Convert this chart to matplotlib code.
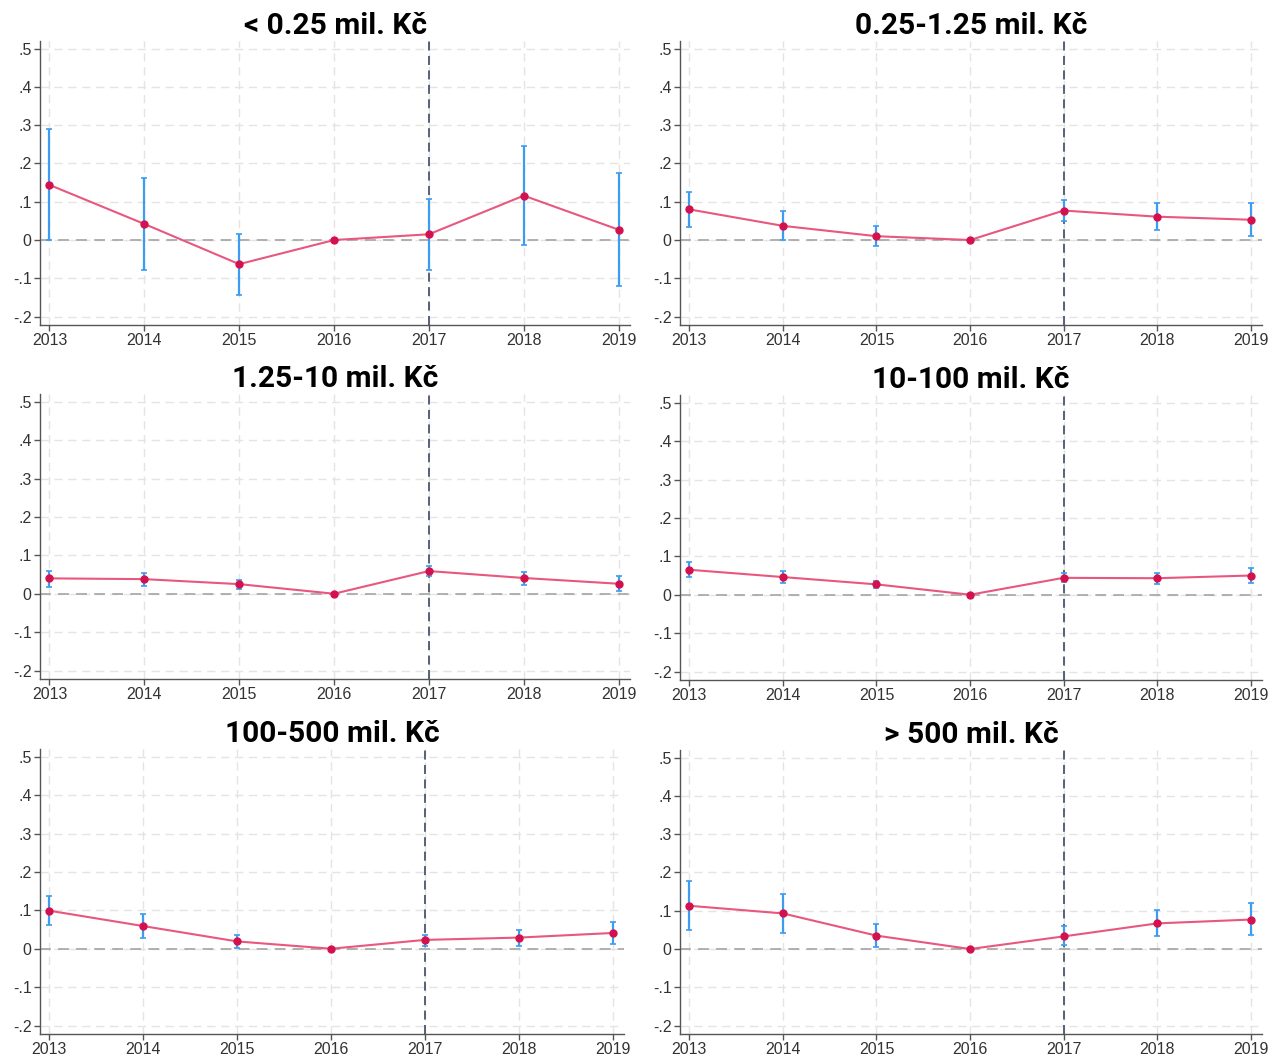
import matplotlib
matplotlib.use("Agg")
import matplotlib.pyplot as plt
from matplotlib.ticker import FuncFormatter

plt.rcParams["font.family"] = ["Liberation Sans", "DejaVu Sans"]

years = [2013, 2014, 2015, 2016, 2017, 2018, 2019]

titles = ["< 0.25 mil. Kč", "0.25-1.25 mil. Kč", "1.25-10 mil. Kč",
          "10-100 mil. Kč", "100-500 mil. Kč", "> 500 mil. Kč"]

# point estimates
est_1 = [0.144, 0.042, -0.063, 0.0, 0.015, 0.116, 0.027]
est_2 = [0.080, 0.037, 0.010, 0.0, 0.077, 0.061, 0.053]
est_3 = [0.040, 0.038, 0.025, 0.0, 0.059, 0.041, 0.026]
est_4 = [0.065, 0.046, 0.027, 0.0, 0.044, 0.043, 0.050]
est_5 = [0.099, 0.059, 0.019, 0.0, 0.023, 0.029, 0.041]
est_6 = [0.113, 0.093, 0.035, 0.0, 0.033, 0.067, 0.077]

# confidence interval bounds
lo_1 = [0.000, -0.077, -0.143, 0.0, -0.077, -0.013, -0.120]
hi_1 = [0.291, 0.163, 0.017, 0.0, 0.107, 0.246, 0.175]
lo_2 = [0.034, 0.000, -0.016, 0.0, 0.051, 0.026, 0.010]
hi_2 = [0.125, 0.077, 0.037, 0.0, 0.105, 0.097, 0.096]
lo_3 = [0.018, 0.021, 0.013, 0.0, 0.047, 0.024, 0.007]
hi_3 = [0.060, 0.055, 0.037, 0.0, 0.071, 0.057, 0.045]
lo_4 = [0.046, 0.030, 0.017, 0.0, 0.032, 0.029, 0.030]
hi_4 = [0.085, 0.062, 0.037, 0.0, 0.057, 0.057, 0.070]
lo_5 = [0.063, 0.029, 0.001, 0.0, 0.008, 0.007, 0.013]
hi_5 = [0.136, 0.090, 0.037, 0.0, 0.036, 0.050, 0.070]
lo_6 = [0.050, 0.042, 0.004, 0.0, 0.010, 0.033, 0.036]
hi_6 = [0.177, 0.145, 0.066, 0.0, 0.059, 0.101, 0.119]

estimates = [est_1, est_2, est_3, est_4, est_5, est_6]
lows = [lo_1, lo_2, lo_3, lo_4, lo_5, lo_6]
highs = [hi_1, hi_2, hi_3, hi_4, hi_5, hi_6]

yticks = [-0.2, -0.1, 0, 0.1, 0.2, 0.3, 0.4, 0.5]

W, H = 1272, 1056
fig = plt.figure(figsize=(W / 100, H / 100), dpi=100)

# axes boxes in pixels: left, right, top, bottom
boxes = [
    (40, 630, 41, 325),
    (680, 1262, 41, 325),
    (40, 630, 394, 679),
    (680, 1262, 395, 680),
    (40, 624, 749, 1034),
    (680, 1262, 750, 1034),
]


def stata_fmt(v, pos):
    if abs(v) < 1e-9:
        return "0"
    s = "%.1f" % v
    return s.replace("0.", ".")


for i in range(6):
    l, r, t, b = boxes[i]
    ax = fig.add_axes([l / W, 1 - b / H, (r - l) / W, (b - t) / H])
    est = estimates[i]
    lo = [e - v for e, v in zip(est, lows[i])]
    hi = [v - e for e, v in zip(est, highs[i])]

    ax.axhline(0, color="#aaaaaa", lw=1.3, ls=(0, (6, 4)), zorder=1)
    ax.axvline(2017, color="#4a5570", lw=1.3, ls=(0, (5, 3)), zorder=2)
    ax.errorbar(years, est, yerr=[lo, hi], fmt="none", ecolor="#3d9bf0",
                elinewidth=1.6, capsize=2.5, capthick=1.2, zorder=3)
    ax.plot(years, est, color="#e8577f", lw=1.5, zorder=4)
    ax.plot(years, est, "o", color="#d4114f", ms=5, zorder=5)

    ax.set_xlim(2012.9, 2019.12)
    ax.set_ylim(-0.222, 0.52)
    ax.set_xticks(years)
    ax.set_yticks(yticks)
    ax.yaxis.set_major_formatter(FuncFormatter(stata_fmt))
    ax.grid(True, color="#e4e4e4", lw=1.0, ls=(0, (6, 4)), zorder=0)
    ax.set_axisbelow(True)
    for side in ["top", "right"]:
        ax.spines[side].set_visible(False)
    for side in ["left", "bottom"]:
        ax.spines[side].set_color("#555555")
        ax.spines[side].set_linewidth(1.0)
    ax.tick_params(axis="both", colors="#555555", labelcolor="#333333",
                   labelsize=11.5, length=4, width=1.0)
    ax.tick_params(axis="x", pad=2)
    ax.tick_params(axis="y", pad=2)

    ax.set_title(titles[i], fontsize=21.5, fontweight="bold",
                 family=["Roboto", "DejaVu Sans"], pad=5)

fig.savefig("out.png", dpi=100, facecolor="white")
